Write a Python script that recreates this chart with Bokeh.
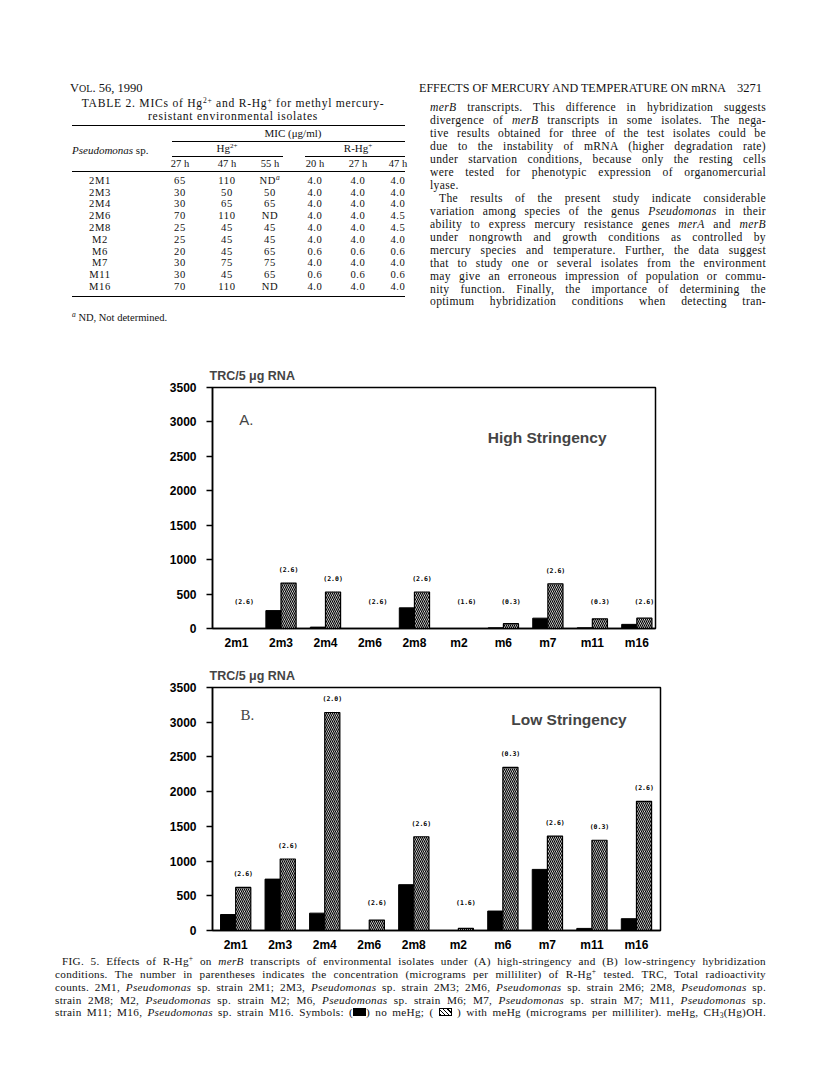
import numpy as np
from bokeh.plotting import figure
from bokeh.models import Range1d, FixedTicker, Label, Div
from bokeh.layouts import column
from bokeh.core.properties import value
from bokeh.embed import file_html
from bokeh.resources import INLINE

# ---------------- data ----------------
isolates = ["2m1", "2m3", "2m4", "2m6", "2m8", "m2", "m6", "m7", "m11", "m16"]
conc_labels = ["(2.6)", "(2.6)", "(2.0)", "(2.6)", "(2.6)", "(1.6)", "(0.3)", "(2.6)", "(0.3)", "(2.6)"]
high_no_mehg = [0, 260, 20, 0, 300, 0, 10, 150, 10, 60]
high_with_mehg = [0, 660, 530, 0, 530, 0, 70, 650, 140, 150]
low_no_mehg = [230, 740, 250, 0, 660, 0, 280, 880, 30, 170]
low_with_mehg = [620, 1030, 3140, 150, 1350, 30, 2350, 1360, 1300, 1860]
y_ticks = [0, 500, 1000, 1500, 2000, 2500, 3000, 3500]

SUPA = '<span style="font-size:7.5px;position:relative;top:-4px;font-style:italic">a</span>'
table_cols = ["27 h", "47 h", "55 h", "20 h", "27 h", "47 h"]
table_rows = [
    ["2M1", "65", "110", "ND" + SUPA, "4.0", "4.0", "4.0"],
    ["2M3", "30", "50", "50", "4.0", "4.0", "4.0"],
    ["2M4", "30", "65", "65", "4.0", "4.0", "4.0"],
    ["2M6", "70", "110", "ND", "4.0", "4.0", "4.5"],
    ["2M8", "25", "45", "45", "4.0", "4.0", "4.5"],
    ["M2", "25", "45", "45", "4.0", "4.0", "4.0"],
    ["M6", "20", "45", "65", "0.6", "0.6", "0.6"],
    ["M7", "30", "75", "75", "4.0", "4.0", "4.0"],
    ["M11", "30", "45", "65", "0.6", "0.6", "0.6"],
    ["M16", "70", "110", "ND", "4.0", "4.0", "4.0"],
]

para_lines = [
    "<i>merB</i> transcripts. This difference in hybridization suggests",
    "divergence of <i>merB</i> transcripts in some isolates. The nega-",
    "tive results obtained for three of the test isolates could be",
    "due to the instability of mRNA (higher degradation rate)",
    "under starvation conditions, because only the resting cells",
    "were tested for phenotypic expression of organomercurial",
    "lyase.",
    "The results of the present study indicate considerable",
    "variation among species of the genus <i>Pseudomonas</i> in their",
    "ability to express mercury resistance genes <i>merA</i> and <i>merB</i>",
    "under nongrowth and growth conditions as controlled by",
    "mercury species and temperature. Further, the data suggest",
    "that to study one or several isolates from the environment",
    "may give an erroneous impression of population or commu-",
    "nity function. Finally, the importance of determining the",
    "optimum hybridization conditions when detecting tran-",
]


def sup(t, size=7.5, top=-4):
    return f'<span style="font-size:{size}px;position:relative;top:{top}px">{t}</span>'


black_sym = '<span style="display:inline-block;width:13px;height:8px;background:#000;"></span>'
hatch_sym = ('<span style="display:inline-block;width:13px;height:8px;border:1px solid #000;box-sizing:border-box;'
             'background:repeating-linear-gradient(45deg,#000 0 1px,#fff 1px 3px);"></span>')
caption_lines = [
    "FIG. 5. Effects of R-Hg" + sup("+") + " on <i>merB</i> transcripts of environmental isolates under (A) high-stringency and (B) low-stringency hybridization",
    "conditions. The number in parentheses indicates the concentration (micrograms per milliliter) of R-Hg" + sup("+") + " tested. TRC, Total radioactivity",
    "counts. 2M1, <i>Pseudomonas</i> sp. strain 2M1; 2M3, <i>Pseudomonas</i> sp. strain 2M3; 2M6, <i>Pseudomonas</i> sp. strain 2M6; 2M8, <i>Pseudomonas</i> sp.",
    "strain 2M8; M2, <i>Pseudomonas</i> sp. strain M2; M6, <i>Pseudomonas</i> sp. strain M6; M7, <i>Pseudomonas</i> sp. strain M7; M11, <i>Pseudomonas</i> sp.",
    "strain M11; M16, <i>Pseudomonas</i> sp. strain M16. Symbols: (" + black_sym + ") no meHg; ( " + hatch_sym
    + " ) with meHg (micrograms per milliliter). meHg, CH" + sup("3", 7.5, 2) + "(Hg)OH.",
]

SERIF = "'Liberation Serif', 'Times New Roman', serif"
SANS = "Liberation Sans"

OX = 5   # page x of the html block origin
OY = 5   # page y of the top html block origin


# ---------------- HTML helpers (page coordinates) ----------------
def at(x, yc, html, size=12.5, align="left", origin_y=OY, extra=""):
    top = yc - origin_y - size * 0.5
    if align == "left":
        pos = f"left:{x - OX}px;"
    elif align == "center":
        pos = f"left:{x - OX - 200}px;width:400px;text-align:center;"
    else:
        pos = f"left:{x - OX - 400}px;width:400px;text-align:right;"
    return (f'<div style="position:absolute;{pos}top:{top:.1f}px;font-size:{size}px;'
            f'line-height:{size:.1f}px;white-space:nowrap;{extra}">{html}</div>')


def rule(x0, x1, y, origin_y=OY, w=1):
    return (f'<div style="position:absolute;left:{x0 - OX}px;top:{y - origin_y}px;width:{x1 - x0}px;'
            f'border-top:{w}px solid #000;"></div>')


def jline(x0, x1, yc, html, size, origin_y=OY, justify=True, ls=0.0):
    top = yc - origin_y - size * 0.5
    al = "text-align:justify;text-align-last:justify;" if justify else "text-align:left;"
    return (f'<div style="position:absolute;left:{x0 - OX}px;top:{top:.1f}px;width:{x1 - x0}px;'
            f'font-size:{size}px;line-height:{size:.1f}px;letter-spacing:{ls}px;{al}white-space:nowrap;">{html}</div>')


# ---------------- top of page (header, table, paragraph) ----------------
parts = []
parts.append(at(70, 88, 'V<span style="font-size:10px">OL</span>. 56, 1990', 12.5))
parts.append(at(419, 88, "EFFECTS OF MERCURY AND TEMPERATURE ON mRNA", 12.1))
parts.append(at(762, 88, "3271", 12.5, align="right"))

parts.append(at(233, 104, "TABLE 2. MICs of Hg" + sup("2+") + " and R-Hg" + sup("+") + " for methyl mercury-",
                11.6, align="center", extra="letter-spacing:0.75px;"))
parts.append(at(233, 117, "resistant environmental isolates", 11.6, align="center", extra="letter-spacing:0.75px;"))
parts.append(rule(72, 405, 125, w=1))
parts.append(at(293, 133, "MIC (\u03bcg/ml)", 11, align="center"))
parts.append(rule(172, 405, 141))
parts.append(at(72, 150, "<i>Pseudomonas</i> sp.", 11))
parts.append(at(227, 148, "Hg" + sup("2+", 7, -4), 11, align="center"))
parts.append(at(358, 148, "R-Hg" + sup("+", 7, -4), 11, align="center"))
parts.append(rule(172, 283, 156))
parts.append(rule(305, 405, 156))
col_x = [180, 227, 270, 315, 358, 398]
for cx, c in zip(col_x, table_cols):
    parts.append(at(cx, 164, c, 10.5, align="center"))
parts.append(rule(72, 405, 171))
for i, row in enumerate(table_rows):
    yc = 181 + i * 11.8
    parts.append(at(100, yc, row[0], 10.6, align="center", extra="letter-spacing:0.6px;"))
    for cx, v in zip(col_x, row[1:]):
        parts.append(at(cx, yc, v, 10.6, align="center", extra="letter-spacing:0.6px;"))
parts.append(rule(72, 405, 296))
parts.append(at(72, 318, sup("<i>a</i>") + " ND, Not determined.", 10.5))

for i, ln in enumerate(para_lines):
    yc = 108 + i * 12.95
    if i == 6:
        parts.append(jline(430, 766, yc, ln, 11.6, justify=False, ls=0.35))
    elif i == 7:
        parts.append(jline(439, 766, yc, ln, 11.6, ls=0.35))
    else:
        parts.append(jline(430, 766, yc, ln, 11.6, ls=0.35))

top_html = (f'<div style="position:relative;width:800px;height:342px;font-family:{SERIF};color:#111;">'
            + "".join(parts) + "</div>")
top_div = Div(text=top_html, width=800, height=342)


# ---------------- chart panels ----------------
def make_panel(no_vals, with_vals, x_start, x_end, left_border, frame_w, bottom_border,
               letter, letter_font, letter_x, letter_y, stringency, str_x, str_y):
    height = 35 + 243 + bottom_border
    p = figure(width=left_border + frame_w + 12, height=height,
               x_range=Range1d(x_start, x_end), y_range=Range1d(0, 3500),
               output_backend="svg", toolbar_location=None,
               min_border_left=left_border, min_border_right=12,
               min_border_top=35, min_border_bottom=bottom_border,
               title="TRC/5 \u03bcg RNA")
    p.title.text_font = SANS
    p.title.text_font_size = "12.5px"
    p.title.text_font_style = "bold"
    p.title.align = "left"
    p.title.offset = -3
    p.title.standoff = 9

    idx = np.arange(len(isolates))
    p.vbar(x=idx - 0.17, top=no_vals, width=0.34, bottom=0,
           fill_color="black", line_color="black", line_width=1)
    p.vbar(x=idx + 0.17, top=with_vals, width=0.34, bottom=0,
           fill_color="white", line_color="black", line_width=1.2,
           hatch_pattern="left_diagonal_line", hatch_color="black",
           hatch_scale=4.0, hatch_weight=1.2)

    label_y = np.maximum(np.array(with_vals), 200) + 190
    p.text(x=idx + 0.17, y=label_y, text=conc_labels,
           text_font=value("DejaVu Sans Mono"), text_font_size="6.5px",
           text_font_style="bold", text_align="center", text_baseline="middle",
           text_color="black")

    p.add_layout(Label(x=letter_x, y=letter_y, text=letter, text_font=letter_font,
                       text_font_size="15px", text_baseline="middle", text_align="left"))
    p.add_layout(Label(x=str_x, y=str_y, text=stringency, text_font=SANS,
                       text_font_size="15.5px", text_font_style="bold",
                       text_baseline="middle", text_align="right"))

    p.xgrid.visible = False
    p.ygrid.visible = False
    p.outline_line_color = "black"
    p.outline_line_width = 1.5
    p.outline_line_alpha = 1

    p.yaxis.ticker = FixedTicker(ticks=y_ticks)
    p.yaxis.minor_tick_line_color = None
    p.yaxis.major_tick_out = 6
    p.yaxis.major_tick_in = 0
    p.yaxis.major_tick_line_width = 1.5
    p.yaxis.axis_line_width = 1.5
    p.yaxis.major_label_standoff = 10
    p.yaxis.major_label_text_font = SANS
    p.yaxis.major_label_text_font_style = "bold"
    p.yaxis.major_label_text_font_size = "12px"
    p.yaxis.major_label_text_color = "black"

    p.xaxis.ticker = FixedTicker(ticks=list(range(len(isolates))))
    p.xaxis.major_label_overrides = {i: n for i, n in enumerate(isolates)}
    p.xaxis.minor_tick_line_color = None
    p.xaxis.major_tick_out = 0
    p.xaxis.major_tick_in = 0
    p.xaxis.axis_line_width = 1.5
    p.xaxis.major_label_standoff = 7
    p.xaxis.major_label_text_font = SANS
    p.xaxis.major_label_text_font_style = "bold"
    p.xaxis.major_label_text_font_size = "12px"
    p.xaxis.major_label_text_color = "black"
    return p


pA = make_panel(high_no_mehg, high_with_mehg, -0.54, 9.42, 209, 446, 22,
                "A.", SANS, 0.06, 3035,
                "High Stringency", 8.32, 2780)
pB = make_panel(low_no_mehg, low_with_mehg, -0.52, 9.54, 212, 448, 25,
                "B.", "Liberation Serif", 0.11, 3105,
                "Low Stringency", 8.78, 3038)

# ---------------- caption ----------------
cap_parts = []
CAP_OY = 959
for i, ln in enumerate(caption_lines):
    yc = 961 + i * 12.7
    x0 = 62 if i == 0 else 55
    cap_parts.append(jline(x0, 766, yc, ln, 11.2, origin_y=CAP_OY, ls=0.3))
cap_html = (f'<div style="position:relative;width:800px;height:80px;font-family:{SERIF};color:#111;">'
            + "".join(cap_parts) + "</div>")
cap_div = Div(text=cap_html, width=800, height=80)

layout = column(top_div, pA, pB, cap_div, spacing=0)
open("out.html", "w").write(file_html(layout, INLINE))
